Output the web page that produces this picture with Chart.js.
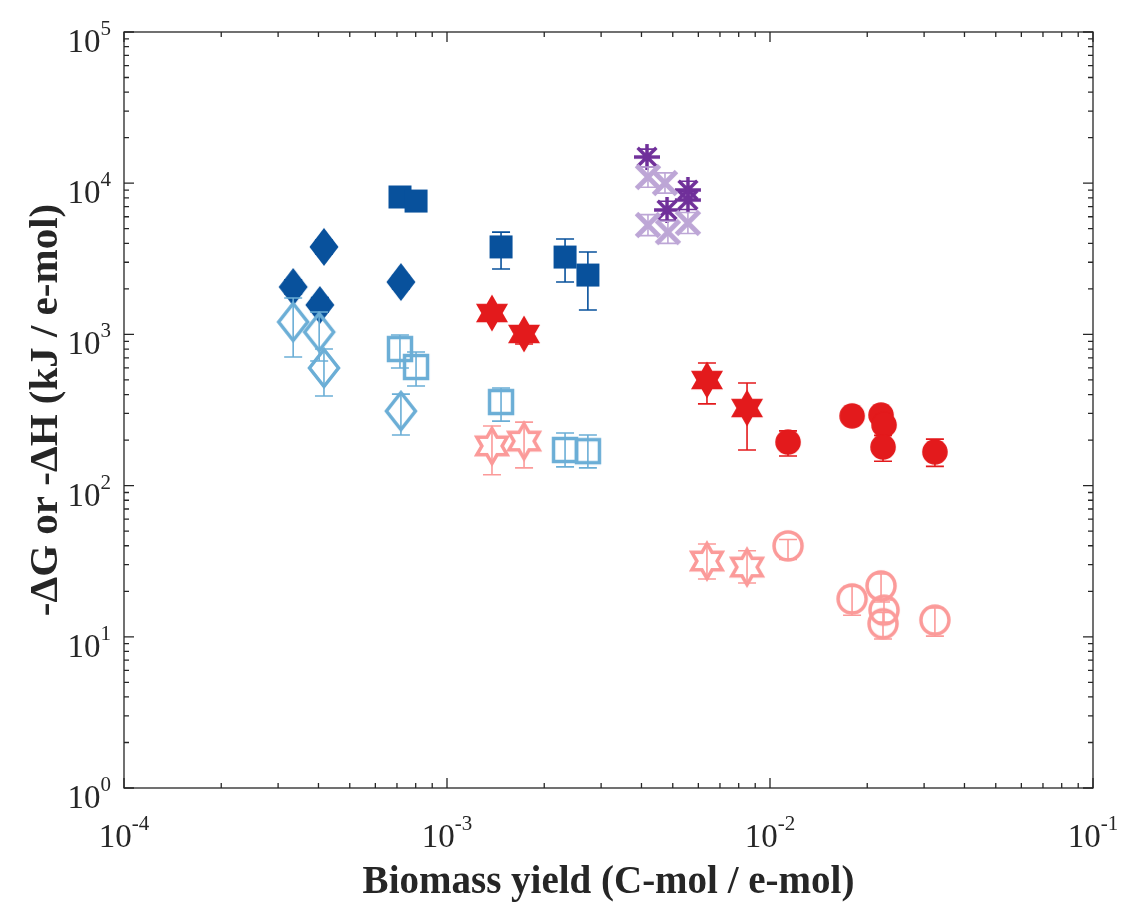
<!DOCTYPE html>
<html>
<head>
<meta charset="utf-8">
<title>Biomass yield vs energy</title>
<script src="https://cdn.jsdelivr.net/npm/chart.js@4.4.0/dist/chart.umd.min.js"></script>
<style>
  html, body { margin: 0; padding: 0; background: #fff; }
  #wrap { width: 1124px; height: 903px; }
</style>
</head>
<body>
<div id="wrap"><canvas id="chart" width="1124" height="903"></canvas></div>
<script>
// axis ranges (log10 decades)
const xDecades = [-4, -3, -2, -1];
const yDecades = [0, 1, 2, 3, 4, 5];

// filled diamonds (-dG)
const diaX = [3.34e-4, 4.04e-4, 4.16e-4, 7.2e-4];
const diaY = [2060, 1565, 3790, 2220];
const diaLo = [1850, 1400, 3400, 2000];
const diaHi = [2300, 1750, 4200, 2450];

// open diamonds (-dH)
const diaOpenX = [3.34e-4, 4.02e-4, 4.16e-4, 7.2e-4];
const diaOpenY = [1208, 1037, 600, 311];
const diaOpenLo = [709, 667, 391, 216];
const diaOpenHi = [1740, 1406, 800, 403];

// filled squares
const sqX = [7.15e-4, 8.02e-4, 1.47e-3, 2.32e-3, 2.73e-3];
const sqY = [8110, 7620, 3790, 3250, 2470];
const sqLo = [7500, 7050, 2710, 2220, 1450];
const sqHi = [8750, 8200, 4750, 4280, 3510];

// open squares
const sqOpenY = [800, 609, 357, 172, 169];
const sqOpenLo = [600, 456, 267, 133, 131];
const sqOpenHi = [991, 765, 442, 223, 216];

// filled hexagrams
const hexX = [1.378e-3, 1.732e-3, 6.38e-3, 8.49e-3];
const hexY = [1385, 1007, 499, 326];
const hexLo = [1250, 864, 347, 172];
const hexHi = [1530, 1100, 647, 477];

// open hexagrams
const hexOpenY = [183, 197, 31.7, 28.9];
const hexOpenLo = [118, 131, 24.1, 22.7];
const hexOpenHi = [248, 263, 41.1, 37.1];

// filled circles
const circX = [0.01137, 0.01795, 0.02207, 0.02254, 0.02238, 0.0324];
const circY = [194, 289, 293, 252, 180, 167];
const circLo = [157, 265, 270, 230, 145, 134];
const circHi = [230, 315, 318, 275, 215, 203];

// open circles
const circOpenY = [39.9, 17.8, 21.7, 15.0, 12.2, 12.9];
const circOpenLo = [32.5, 13.9, 17.0, 12.5, 9.67, 10.1];
const circOpenHi = [44, 21.5, 26, 17.5, 14.5, 15.5];

// asterisks
const astX = [4.16e-3, 5.57e-3, 5.57e-3, 4.8e-3];
const astY = [14900, 9020, 7740, 6650];
const astLo = [12800, 7800, 6700, 5700];
const astHi = [16800, 10300, 8800, 7600];

// crosses
const crossX = [4.19e-3, 4.73e-3, 4.19e-3, 4.83e-3, 5.57e-3];
const crossY = [10990, 10030, 5290, 4750, 5460];
const crossLo = [9400, 8600, 4500, 4000, 4650];
const crossHi = [12800, 11700, 6200, 5600, 6400];

const DARK_BLUE = '#08519c', LIGHT_BLUE = '#6baed6';
const RED = '#e31a1c', PINK = '#fb9a99';
const DARK_PURPLE = '#70309a', LIGHT_PURPLE = '#bda6d6';
const AXIS = '#262626';
const FONT = '"Liberation Serif", "DejaVu Serif", serif';

// marker images
function marker(w, h, draw) {
  const c = document.createElement('canvas');
  c.width = w; c.height = h;
  const g = c.getContext('2d');
  g.translate(w / 2, h / 2);
  draw(g);
  return c;
}
function starPath(g, R, r) {
  g.beginPath();
  for (let i = 0; i < 12; i++) {
    const a = -Math.PI / 2 + i * Math.PI / 6;
    const rad = i % 2 === 0 ? R : r;
    const px = rad * Math.cos(a), py = rad * Math.sin(a);
    if (i === 0) g.moveTo(px, py); else g.lineTo(px, py);
  }
  g.closePath();
}
const mk = {
  diamond: marker(32, 42, g => {
    g.fillStyle = DARK_BLUE;
    g.beginPath(); g.moveTo(0, -19); g.lineTo(14.5, 0); g.lineTo(0, 19); g.lineTo(-14.5, 0); g.closePath(); g.fill();
  }),
  diamondOpen: marker(40, 50, g => {
    g.strokeStyle = LIGHT_BLUE; g.lineWidth = 3.5;
    g.beginPath(); g.moveTo(0, -18.5); g.lineTo(14.5, 0); g.lineTo(0, 18.5); g.lineTo(-14.5, 0); g.closePath(); g.stroke();
  }),
  square: marker(25, 25, g => { g.fillStyle = DARK_BLUE; g.fillRect(-11.5, -11.5, 23, 23); }),
  squareOpen: marker(32, 32, g => { g.strokeStyle = LIGHT_BLUE; g.lineWidth = 3.5; g.strokeRect(-11.5, -11.5, 23, 23); }),
  hex: marker(38, 42, g => { g.fillStyle = RED; starPath(g, 18.5, 18.5 / Math.sqrt(3)); g.fill(); }),
  hexOpen: marker(48, 52, g => {
    g.strokeStyle = PINK; g.lineWidth = 3.5; g.lineJoin = 'miter';
    starPath(g, 17.5, 17.5 / Math.sqrt(3)); g.stroke();
  }),
  circle: marker(28, 28, g => { g.fillStyle = RED; g.beginPath(); g.arc(0, 0, 12.8, 0, Math.PI * 2); g.fill(); }),
  circleOpen: marker(38, 38, g => {
    g.strokeStyle = PINK; g.lineWidth = 3.5; g.beginPath(); g.arc(0, 0, 14, 0, Math.PI * 2); g.stroke();
  }),
  asterisk: marker(34, 34, g => {
    g.strokeStyle = DARK_PURPLE; g.lineWidth = 3.5; g.beginPath();
    const s = 13, d = s * 0.72;
    g.moveTo(-s, 0); g.lineTo(s, 0); g.moveTo(0, -s); g.lineTo(0, s);
    g.moveTo(-d, -d); g.lineTo(d, d); g.moveTo(-d, d); g.lineTo(d, -d);
    g.stroke();
  }),
  cross: marker(34, 34, g => {
    g.strokeStyle = LIGHT_PURPLE; g.lineWidth = 5; g.beginPath();
    const s = 11.5;
    g.moveTo(-s, -s); g.lineTo(s, s); g.moveTo(-s, s); g.lineTo(s, -s);
    g.stroke();
  })
};

function pts(xs, ys) { return xs.map((x, i) => ({ x: x, y: ys[i] })); }

const series = [
  { xs: diaX, ys: diaY, lo: diaLo, hi: diaHi, color: DARK_BLUE, style: mk.diamond },
  { xs: diaOpenX, ys: diaOpenY, lo: diaOpenLo, hi: diaOpenHi, color: LIGHT_BLUE, style: mk.diamondOpen },
  { xs: sqX, ys: sqY, lo: sqLo, hi: sqHi, color: DARK_BLUE, style: mk.square },
  { xs: sqX, ys: sqOpenY, lo: sqOpenLo, hi: sqOpenHi, color: LIGHT_BLUE, style: mk.squareOpen },
  { xs: hexX, ys: hexY, lo: hexLo, hi: hexHi, color: RED, style: mk.hex },
  { xs: hexX, ys: hexOpenY, lo: hexOpenLo, hi: hexOpenHi, color: PINK, style: mk.hexOpen },
  { xs: circX, ys: circY, lo: circLo, hi: circHi, color: RED, style: mk.circle },
  { xs: circX, ys: circOpenY, lo: circOpenLo, hi: circOpenHi, color: PINK, style: mk.circleOpen },
  { xs: astX, ys: astY, lo: astLo, hi: astHi, color: DARK_PURPLE, style: mk.asterisk },
  { xs: crossX, ys: crossY, lo: crossLo, hi: crossHi, color: LIGHT_PURPLE, style: mk.cross }
];

const datasets = series.map((s, i) => ({
  data: pts(s.xs, s.ys),
  errLo: s.lo,
  errHi: s.hi,
  errColor: s.color,
  pointStyle: s.style,
  pointRadius: 10,
  showLine: false,
  order: series.length - i,
  clip: false
}));

// vertical error bars with caps, drawn just under each dataset's markers
const errorBars = {
  id: 'errorBars',
  beforeDatasetDraw(chart, args) {
    const ds = chart.data.datasets[args.index];
    if (!ds.errLo) return;
    const xs = chart.scales.x, ys = chart.scales.y, ctx = chart.ctx;
    ctx.save();
    ctx.strokeStyle = ds.errColor;
    ctx.lineWidth = 1.6;
    ds.data.forEach((p, i) => {
      const px = xs.getPixelForValue(p.x);
      const top = ys.getPixelForValue(ds.errHi[i]);
      const bot = ys.getPixelForValue(ds.errLo[i]);
      ctx.beginPath();
      ctx.moveTo(px, top); ctx.lineTo(px, bot);
      ctx.moveTo(px - 9, top); ctx.lineTo(px + 9, top);
      ctx.moveTo(px - 9, bot); ctx.lineTo(px + 9, bot);
      ctx.stroke();
    });
    ctx.restore();
  }
};

function powerLabel(ctx, exp, x, y, align) {
  ctx.font = '33px ' + FONT;
  const base = '10';
  const bw = ctx.measureText(base).width;
  ctx.font = '21px ' + FONT;
  const e = String(exp);
  const ew = ctx.measureText(e).width;
  const total = bw + ew;
  let left = align === 'center' ? x - total / 2 : x - total;
  ctx.textAlign = 'left';
  ctx.textBaseline = 'alphabetic';
  ctx.font = '33px ' + FONT;
  ctx.fillText(base, left, y);
  ctx.font = '21px ' + FONT;
  ctx.fillText(e, left + bw, y - 17);
}

// box, inward ticks, power-of-ten labels and axis titles
const axesFrame = {
  id: 'axesFrame',
  beforeDatasetsDraw(chart) {
    const { ctx, chartArea: a } = chart;
    const xs = chart.scales.x, ys = chart.scales.y;
    ctx.save();
    ctx.strokeStyle = AXIS;
    ctx.lineWidth = 1.3;
    ctx.strokeRect(a.left, a.top, a.right - a.left, a.bottom - a.top);
    ctx.beginPath();
    xDecades.forEach((d, k) => {
      for (let m = 1; m <= 9; m++) {
        if (m > 1 && k === xDecades.length - 1) break;
        const px = xs.getPixelForValue(m * Math.pow(10, d));
        const len = m === 1 ? 10 : 5;
        ctx.moveTo(px, a.bottom); ctx.lineTo(px, a.bottom - len);
        ctx.moveTo(px, a.top); ctx.lineTo(px, a.top + len);
      }
    });
    yDecades.forEach((d, k) => {
      for (let m = 1; m <= 9; m++) {
        if (m > 1 && k === yDecades.length - 1) break;
        const py = ys.getPixelForValue(m * Math.pow(10, d));
        const len = m === 1 ? 10 : 5;
        ctx.moveTo(a.left, py); ctx.lineTo(a.left + len, py);
        ctx.moveTo(a.right, py); ctx.lineTo(a.right - len, py);
      }
    });
    ctx.stroke();

    ctx.fillStyle = AXIS;
    xDecades.forEach(d => powerLabel(ctx, d, xs.getPixelForValue(Math.pow(10, d)), a.bottom + 59, 'center'));
    yDecades.forEach(d => powerLabel(ctx, d, a.left - 13, ys.getPixelForValue(Math.pow(10, d)) + 20, 'right'));

    ctx.textAlign = 'center';
    ctx.textBaseline = 'alphabetic';
    ctx.font = 'bold 39px ' + FONT;
    ctx.fillText('Biomass yield (C-mol / e-mol)', (a.left + a.right) / 2, 893);
    ctx.save();
    ctx.font = 'bold 41px ' + FONT;
    ctx.translate(57, (a.top + a.bottom) / 2);
    ctx.rotate(-Math.PI / 2);
    ctx.fillText('-\u0394G or -\u0394H (kJ / e-mol)', 0, 0);
    ctx.restore();
    ctx.restore();
  }
};

new Chart(document.getElementById('chart'), {
  type: 'scatter',
  data: { datasets: datasets },
  options: {
    responsive: false,
    animation: false,
    layout: { padding: { left: 124, right: 31, top: 32, bottom: 115 } },
    plugins: { legend: { display: false }, tooltip: { enabled: false } },
    scales: {
      x: { type: 'logarithmic', min: 1e-4, max: 1e-1, display: false },
      y: { type: 'logarithmic', min: 1, max: 1e5, display: false }
    }
  },
  plugins: [errorBars, axesFrame]
});
</script>
</body>
</html>
